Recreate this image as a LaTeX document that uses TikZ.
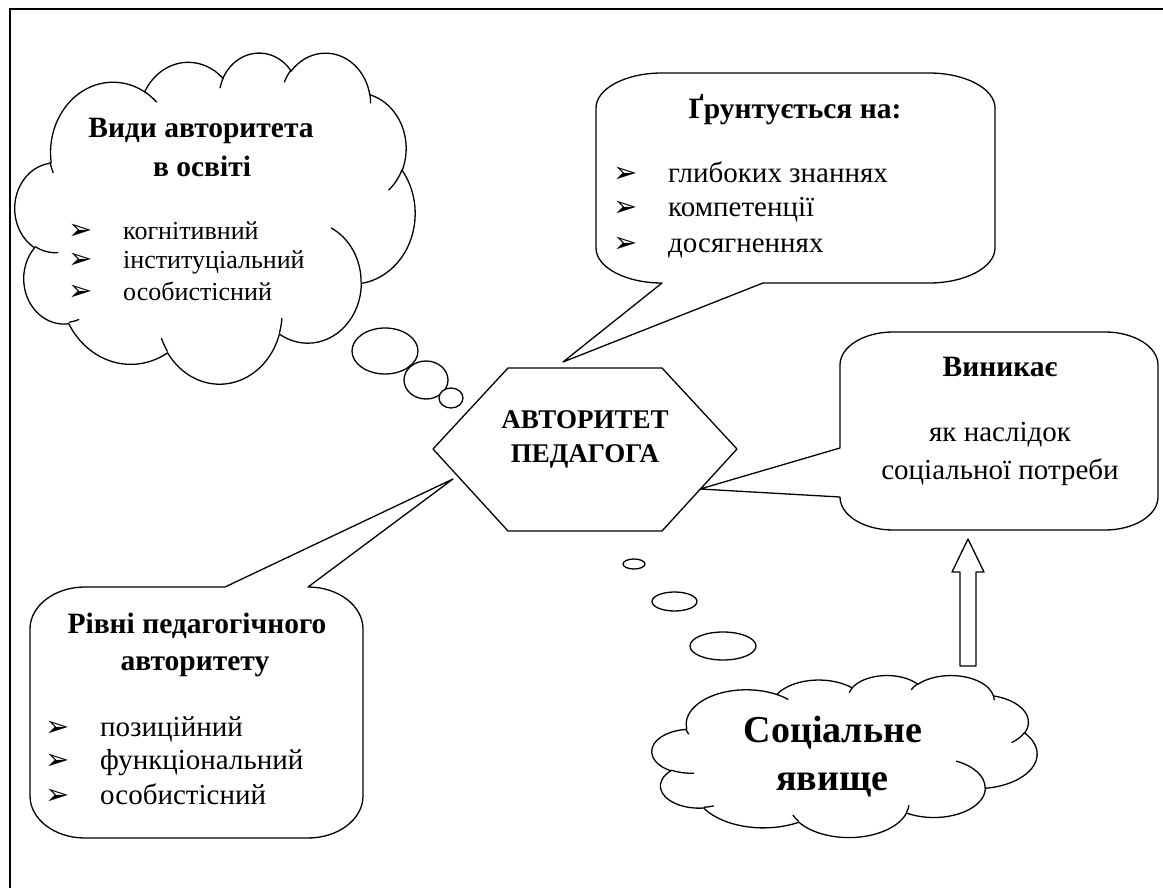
\documentclass[tikz,border=0pt]{standalone}
\usepackage{fontspec}
\setmainfont{Liberation Serif}
\newfontfamily\symfont{DejaVu Sans}

% Elliptical arc with DrawingML arcTo semantics: radii in local units,
% start angle and sweep as geometric angles in degrees.
\newcommand\ooarcto[4]{%
  \pgfmathsetmacro\ooTs{atan2((#1)*sin(#3),(#2)*cos(#3))}%
  \pgfmathsetmacro\ooTe{atan2((#1)*sin((#3)+(#4)),(#2)*cos((#3)+(#4)))}%
  \pgfmathsetmacro\ooTe{\ooTe+360*(((#4)>0)*((\ooTe)<(\ooTs))-((#4)<0)*((\ooTe)>(\ooTs)))}%
  \pgfpatharc{\ooTs}{\ooTe}{#1pt and #2pt}%
}

% Cloud outline on a 432 x 432 grid (y pointing down)
\newcommand\cloudoutline{%
  \pgfpathmoveto{\pgfqpoint{39pt}{143.7pt}}%
  \ooarcto{67.53}{91.90}{-190.4875}{123.7805}%
  \ooarcto{53.33}{72.67}{-144.1024}{89.9452}%
  \ooarcto{43.65}{59.45}{-145.8079}{99.7230}%
  \ooarcto{48.57}{65.95}{-130.9861}{117.2417}%
  \ooarcto{53.33}{72.73}{-78.7089}{109.0269}%
  \ooarcto{67.75}{92.20}{-46.2673}{130.2690}%
  \ooarcto{57.85}{78.67}{0.6250}{114.0333}%
  \ooarcto{67.52}{92.15}{22.4516}{115.1726}%
  \ooarcto{77.20}{105.43}{66.2426}{75.7110}%
  \ooarcto{43.60}{59.18}{-274.9421}{146.7356}%
  \ooarcto{43.45}{59.45}{-246.8285}{152.5189}%
  \pgfpathclose}

% Small inner strokes between the puffs
\newcommand\cloudhooks{%
  \pgfpathmoveto{\pgfqpoint{46.93pt}{261.77pt}}\ooarcto{43.45}{59.45}{86.7420}{26.4295}%
  \pgfpathmoveto{\pgfqpoint{69.28pt}{348.99pt}}\ooarcto{43.60}{59.18}{73.6105}{11.4475}%
  \pgfpathmoveto{\pgfqpoint{164.78pt}{390.90pt}}\ooarcto{67.52}{92.15}{137.6242}{14.0811}%
  \pgfpathmoveto{\pgfqpoint{288.27pt}{347.51pt}}\ooarcto{67.52}{92.15}{6.4533}{15.9984}%
  \pgfpathmoveto{\pgfqpoint{341.29pt}{229.54pt}}\ooarcto{57.85}{78.67}{-70.2924}{70.9174}%
  \pgfpathmoveto{\pgfqpoint{417.98pt}{153.54pt}}\ooarcto{53.33}{72.73}{30.3180}{27.7515}%
  \pgfpathmoveto{\pgfqpoint{383.24pt}{54.26pt}}\ooarcto{48.57}{65.95}{-13.7443}{14.8589}%
  \pgfpathmoveto{\pgfqpoint{290.78pt}{39.52pt}}\ooarcto{48.57}{65.95}{-149.1815}{18.1954}%
  \pgfpathmoveto{\pgfqpoint{221.41pt}{47.20pt}}\ooarcto{43.65}{59.45}{-163.4943}{17.6864}%
  \pgfpathmoveto{\pgfqpoint{140.00pt}{51.92pt}}\ooarcto{67.53}{91.90}{-66.7070}{12.3194}%
  \pgfpathmoveto{\pgfqpoint{41.27pt}{157.89pt}}\ooarcto{67.53}{91.90}{150.0980}{11.8604}%
}

\newcommand\bul{\makebox[55pt][l]{\symfont\fontsize{29}{29}\selectfont ➢}}

\tikzset{
  outline/.style={draw=black, line width=1.3pt, fill=white, line join=round},
  txt/.style={inner sep=0pt, font=\fontsize{29}{34}\selectfont},
  smalltxt/.style={inner sep=0pt, font=\fontsize{26}{30}\selectfont, anchor=base west},
  ttl/.style={inner sep=0pt, font=\bfseries\fontsize{29.5}{34}\selectfont, anchor=base},
  hexttl/.style={inner sep=0pt, font=\bfseries\fontsize{27}{31}\selectfont, anchor=base},
  plain/.style={txt, anchor=base},
  item/.style={txt, anchor=base west},
  bigttl/.style={inner sep=0pt, font=\bfseries\fontsize{38}{44}\selectfont, anchor=base},
}

\begin{document}
\begin{tikzpicture}[x=1pt, y=-1pt]
\useasboundingbox (0,0) rectangle (1163,888);
\fill[white] (0,0) rectangle (1163,888);

% frame
\draw[line width=2pt] (10,888) -- (10,9) -- (1163,9);

% ---------- cloud: kinds of authority ----------
\begin{scope}[shift={(15,52)}, xscale=400/432, yscale=-331/432, line width=1.3pt]
  \pgfsetfillcolor{white}
  \cloudoutline \pgfusepath{fill,stroke}
  \cloudhooks \pgfusepath{stroke}
\end{scope}
\draw[outline] (385,351) ellipse [x radius=33pt, y radius=23pt];
\draw[outline] (426,380) ellipse [x radius=22pt, y radius=19pt];
\draw[outline] (451,398) ellipse [x radius=12pt, y radius=10pt];

\node[ttl] (kindsA) at (201,138) {Види авторитета};
\node[ttl] (kindsB) at (202,177) {в освіті};
\node[smalltxt] (kind1) at (68,240) {\bul когнітивний};
\node[smalltxt] (kind2) at (68,269) {\bul інституціальний};
\node[smalltxt] (kind3) at (68,300) {\bul особистісний};

% ---------- central hexagon ----------
\coordinate (hexTL) at (508,368);
\coordinate (hexTR) at (662,368);
\coordinate (hexR) at (737,449);
\coordinate (hexBR) at (662,531);
\coordinate (hexBL) at (508,531);
\coordinate (hexL) at (433,449);
\draw[outline] (hexTL) -- (hexTR) -- (hexR) -- (hexBR) -- (hexBL) -- (hexL) -- cycle;
\node[hexttl] (authA) at (585,428) {АВТОРИТЕТ};
\node[hexttl] (authB) at (585,462) {ПЕДАГОГА};

% ---------- callout: based on ----------
\coordinate (tipT) at (563,362);
\draw[outline] (662,73) -- (929,73)
  arc[start angle=90, end angle=0, x radius=66pt, y radius=35pt] -- (995,248)
  arc[start angle=0, end angle=-90, x radius=66pt, y radius=35pt] -- (763,283)
  -- (tipT) -- (662,283)
  arc[start angle=-90, end angle=-180, x radius=66pt, y radius=35pt] -- (596,108)
  arc[start angle=180, end angle=90, x radius=66pt, y radius=35pt] -- cycle;
\node[ttl] (baseT) at (795,119) {Ґрунтується на:};
\node[item] (base1) at (613,183) {\bul глибоких знаннях};
\node[item] (base2) at (613,217) {\bul компетенції};
\node[item] (base3) at (613,252) {\bul досягненнях};

% ---------- callout: arises ----------
\coordinate (tipR) at (700,489);
\draw[outline] (893,332) -- (1105,332)
  arc[start angle=90, end angle=0, x radius=53pt, y radius=33pt] -- (1158,497)
  arc[start angle=0, end angle=-90, x radius=53pt, y radius=33pt] -- (893,530)
  arc[start angle=-90, end angle=-180, x radius=53pt, y radius=33pt]
  -- (tipR) -- (840,448) -- (840,365)
  arc[start angle=180, end angle=90, x radius=53pt, y radius=33pt] -- cycle;
\node[ttl] (arisesT) at (1000,376) {Виникає};
\node[plain] (arises1) at (1000,441) {як наслідок};
\node[plain] (arises2) at (1000,479) {соціальної потреби};

% ---------- callout: levels ----------
\coordinate (tipB) at (453,479);
\draw[outline] (85,587) -- (225,587) -- (tipB) -- (308,587)
  arc[start angle=90, end angle=0, x radius=55pt, y radius=42pt] -- (363,796)
  arc[start angle=0, end angle=-90, x radius=55pt, y radius=42pt] -- (85,838)
  arc[start angle=-90, end angle=-180, x radius=55pt, y radius=42pt] -- (30,629)
  arc[start angle=180, end angle=90, x radius=55pt, y radius=42pt] -- cycle;
\node[ttl] (levelsA) at (197,633) {Рівні педагогічного};
\node[ttl] (levelsB) at (195,670) {авторитету};
\node[item] (level1) at (45,736) {\bul позиційний};
\node[item] (level2) at (45,769) {\bul функціональний};
\node[item] (level3) at (45,804) {\bul особистісний};

% ---------- cloud: social phenomenon ----------
\draw[outline] (634,564) ellipse [x radius=11pt, y radius=5pt];
\draw[outline] (674.5,601.5) ellipse [x radius=22.5pt, y radius=9.5pt];
\draw[outline] (723,646) ellipse [x radius=33pt, y radius=14pt];
\begin{scope}[shift={(652,675)}, xscale=385/432, yscale=-162/432, line width=1.3pt]
  \pgfsetfillcolor{white}
  \cloudoutline \pgfusepath{fill,stroke}
  \cloudhooks \pgfusepath{stroke}
\end{scope}
\node[bigttl] (socialA) at (833,742) {Соціальне};
\node[bigttl] (socialB) at (832,790) {явище};

% ---------- block arrow from the cloud up to the box ----------
\coordinate (arrTip) at (968,539);
\draw[outline] (960,666) -- (960,572) -- (952,572) -- (arrTip) -- (984,572)
  -- (976,572) -- (976,666) -- cycle;
\end{tikzpicture}
\end{document}
